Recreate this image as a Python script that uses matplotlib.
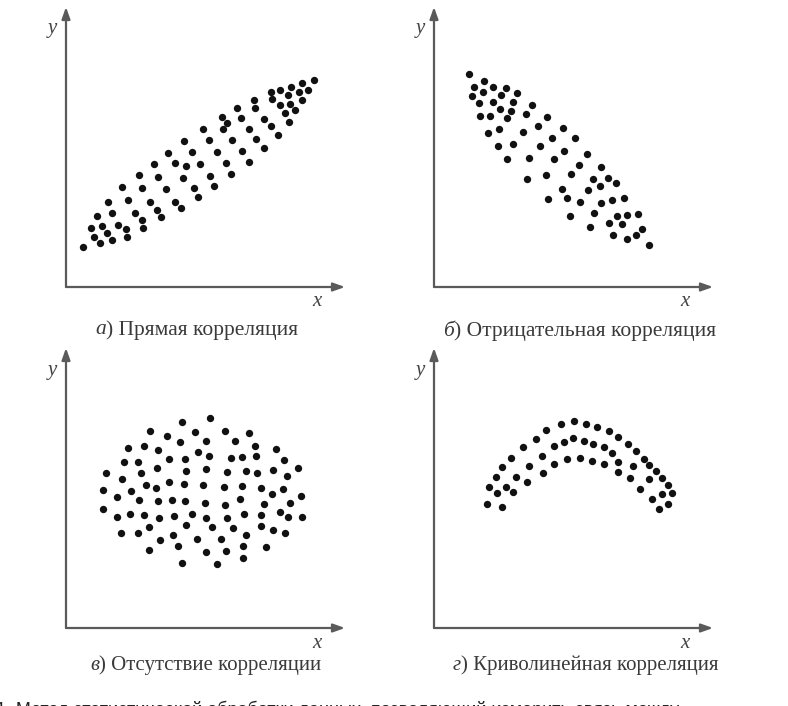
import matplotlib.pyplot as plt

# Types of correlation: four scatter panels (coordinates)

# а) Прямая корреляция
direct_x = [17, 34, 46, 28, 41, 61, 25, 36, 52, 60, 77, 31, 46, 69, 76, 95, 42, 62, 84, 91,
            109, 115, 56, 76, 100, 128, 132, 148, 73, 92, 117, 144, 165, 88, 109, 120, 134,
            160, 183, 102, 126, 151, 176, 198, 118, 143, 166, 190, 137, 157, 161, 156, 183,
            205, 212, 171, 175, 198, 189, 188, 206, 205, 214, 222, 214, 224, 229, 219, 223,
            225, 236, 233, 236, 242, 248]
direct_y = [40, 44, 47, 50, 54, 50, 59, 61, 62, 58, 59, 71, 74, 74, 67, 70, 85, 87, 85, 77,
            85, 79, 100, 99, 98, 99, 90, 101, 112, 110, 109, 111, 113, 123, 124, 121, 123,
            124, 125, 134, 135, 135, 136, 139, 146, 147, 147, 148, 158, 158, 164, 170, 158,
            161, 152, 179, 169, 168, 179, 187, 188, 195, 197, 192, 182, 183, 177, 174, 165,
            200, 204, 195, 187, 197, 207]

# б) Отрицательная корреляция
negative_x = [35, 50, 40, 59, 49, 72, 83, 38, 67, 45, 59, 79, 66, 77, 98, 46, 56, 73, 92, 113,
              65, 54, 89, 104, 129, 64, 79, 106, 118, 141, 73, 95, 120, 130, 153, 93, 112,
              137, 145, 167, 159, 174, 182, 166, 154, 128, 114, 133, 146, 167, 178, 190, 136,
              160, 183, 193, 204, 175, 188, 156, 179, 193, 202, 208, 215]
negative_y = [213, 206, 200, 200, 195, 199, 194, 191, 192, 184, 185, 185, 178, 176, 182, 171,
              171, 169, 173, 170, 158, 154, 155, 161, 159, 141, 143, 141, 149, 149, 128, 129,
              128, 136, 133, 108, 112, 113, 122, 120, 108, 109, 104, 101, 97, 98, 88, 89, 85,
              84, 87, 89, 71, 74, 71, 72, 73, 64, 63, 60, 52, 48, 52, 58, 42]

# в) Отсутствие корреляции
none_x = [144, 116, 84, 129, 159, 183, 101, 114, 140, 169, 62, 78, 92, 132, 143, 189, 210, 58,
          72, 103, 119, 165, 176, 190, 218, 40, 75, 91, 120, 140, 161, 180, 191, 207, 221, 232,
          56, 80, 90, 103, 118, 137, 158, 176, 195, 217, 37, 65, 51, 73, 92, 106, 119, 139,
          159, 174, 198, 206, 224, 235, 37, 64, 51, 78, 93, 108, 126, 140, 161, 178, 195, 214,
          222, 236, 55, 72, 83, 120, 146, 167, 195, 207, 219, 94, 107, 131, 155, 180, 83, 112,
          140, 160, 177, 200, 177, 116, 151]
none_y = [210, 206, 197, 196, 197, 195, 192, 186, 187, 187, 180, 182, 178, 176, 172, 182, 179,
          166, 166, 169, 169, 170, 171, 172, 168, 155, 155, 160, 157, 159, 156, 157, 155, 158,
          152, 160, 149, 143, 140, 146, 144, 143, 141, 142, 140, 139, 138, 137, 131, 128, 127,
          128, 127, 125, 123, 129, 124, 134, 125, 132, 119, 114, 111, 113, 110, 112, 114, 110,
          110, 114, 113, 116, 111, 111, 95, 95, 101, 103, 101, 100, 102, 98, 95, 88, 93, 89,
          89, 93, 78, 82, 76, 77, 82, 81, 70, 65, 64]

# г) Криволинейная корреляция
curve_x = [53, 55, 62, 68, 77, 89, 102, 112, 127, 140, 152, 163, 175, 184, 194, 202, 210, 222,
           228, 234, 238, 234, 225,
           63, 72, 82, 95, 108, 120, 130, 139, 150, 159, 170, 178, 184, 215, 228, 218,
           68, 79, 93, 109, 120, 133, 146, 158, 170, 184, 196, 199, 215, 206]
curve_y = [124, 141, 151, 161, 170, 181, 189, 198, 204, 207, 204, 201, 197, 191, 184, 177, 169,
           157, 150, 143, 135, 124, 119,
           135, 141, 151, 162, 172, 182, 186, 190, 187, 184, 181, 175, 166, 163, 134, 129,
           121, 136, 146, 155, 164, 169, 170, 167, 164, 156, 150, 162, 149, 139]

captions = [("а", ") Прямая корреляция"),
            ("б", ") Отрицательная корреляция"),
            ("в", ") Отсутствие корреляции"),
            ("г", ") Криволинейная корреляция")]

W, H = 788, 706
fig = plt.figure(figsize=(W / 100, H / 100), dpi=100)

# panel origin (px from left, px from top), caption split point and size
panels = [
    (66, 287, direct_x, direct_y, 106, 330, 15.5),
    (434, 287, negative_x, negative_y, 454, 331, 15.5),
    (66, 628, none_x, none_y, 99, 665, 15),
    (434, 628, curve_x, curve_y, 461, 665, 15),
]
axis_w, axis_h = 279, 280

for i, (ox, oy, xs, ys, cap_x, cap_y, cap_size) in enumerate(panels):
    ax = fig.add_axes([ox / W, (H - oy) / H, axis_w / W, axis_h / H])
    ax.set_xlim(0, axis_w)
    ax.set_ylim(0, axis_h)
    ax.axis("off")
    ax.scatter(xs, ys, s=28, color="#111111", linewidths=0, clip_on=False)

    arrow = dict(arrowstyle="-|>,head_length=0.7,head_width=0.25", color="#5a5a5a",
                 lw=1.6, shrinkA=0, shrinkB=0)
    ax.annotate("", xy=(1, 0), xytext=(0, 0), xycoords="axes fraction", arrowprops=arrow)
    ax.annotate("", xy=(0, 1), xytext=(0, 0), xycoords="axes fraction", arrowprops=arrow)

    fig.text((ox - 14) / W, (H - (oy - 258)) / H, "y", family="Liberation Serif",
             style="italic", fontsize=15, color="#444444", ha="center", va="center")
    fig.text((ox + 251) / W, (H - (oy + 15)) / H, "x", family="Liberation Serif",
             style="italic", fontsize=15, color="#444444", ha="center", va="center")

    letter, rest = captions[i]
    fig.text(cap_x / W, (H - cap_y) / H, letter, family="Liberation Serif", style="italic",
             fontsize=cap_size, color="#3a3a3a", ha="right", va="center")
    fig.text(cap_x / W, (H - cap_y) / H, rest, family="Liberation Serif",
             fontsize=cap_size, color="#3a3a3a", ha="left", va="center")

fig.text(-4 / W, (H - 710) / H,
         "1. Метод статистической обработки данных, позволяющий измерить связь между",
         family="Liberation Sans", fontsize=13, color="#222222", ha="left", va="center")

fig.savefig("out.png", dpi=100)
